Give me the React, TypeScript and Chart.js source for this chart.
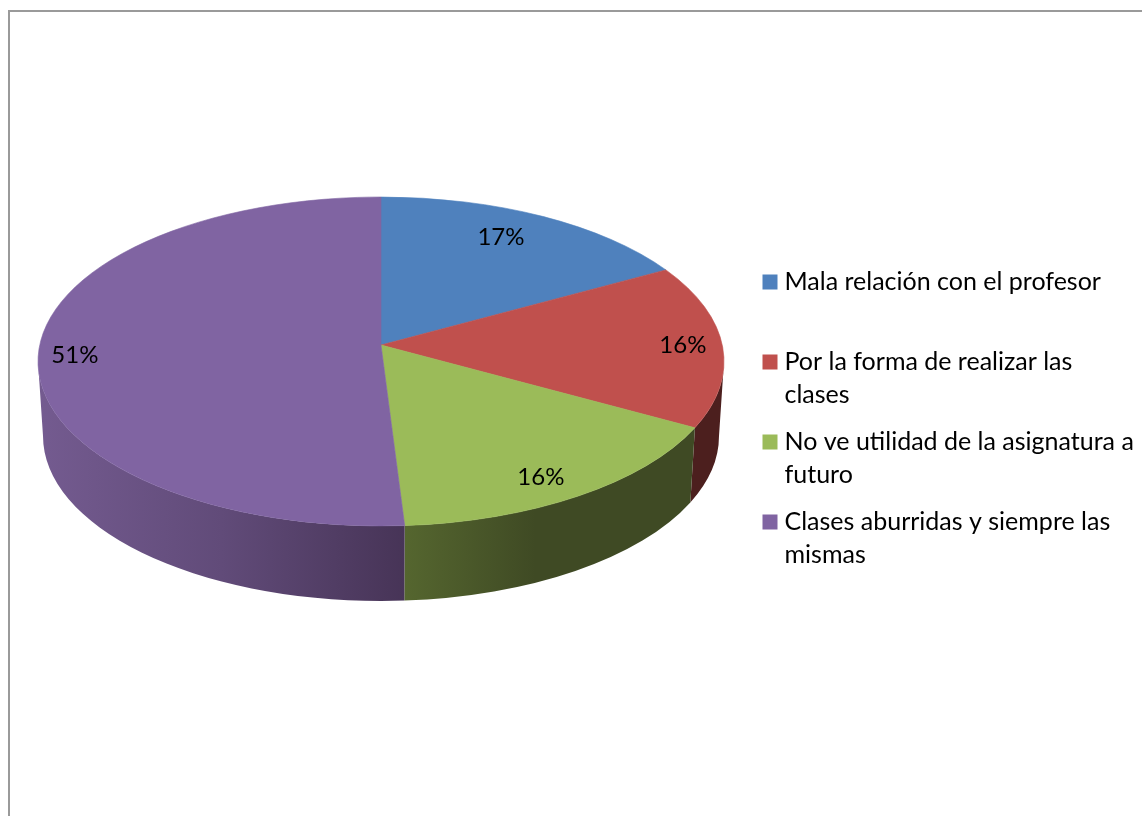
import React, { useEffect, useRef } from "react";
import { Chart, registerables } from "chart.js";

Chart.register(...registerables);

const categories: string[][] = [
  ["Mala relación con el profesor", ""],
  ["Por la forma de realizar las", "clases"],
  ["No ve utilidad de la asignatura a", "futuro"],
  ["Clases aburridas y siempre las", "mismas"],
];
const values = [17, 16, 16, 51];
const topColors = ["#4f81bd", "#c0504d", "#9bbb59", "#8064a2"];
const wallStops: [number, string][][] = [
  [[0, "#3a5a80"], [1, "#3a5a80"]],
  [[0, "#4c1f1e"], [1, "#4c1f1e"]],
  [[0, "#55662f"], [0.45, "#3f4a24"], [1, "#3f4a24"]],
  [[0, "#745b90"], [0.5, "#614b79"], [1, "#473457"]],
];
const labelReachX = [0.687, 0.88, 0.87, 0.893];
const labelReachY = [0.76, 0.88, 0.95, 1.93];

const TOP = { cx: 381, cy: 361.5, rx: 343, ry: 164.5, apexY: 345 };
const BOTTOM = { cx: 381, cy: 436, rx: 338, ry: 165 };
const FRAME_COLOR = "#9a9a9a";
const FONT = "Lato, Carlito, sans-serif";

// Ellipse parameter where the perspective ray of a slice angle leaves the top face.
function rimParam(angle: number): number {
  const th = angle + Math.PI / 2;
  const v0 = (TOP.apexY - TOP.cy) / TOP.ry;
  const dx = Math.sin(th);
  const dy = -Math.cos(th);
  const b = v0 * dy;
  const s = -b + Math.sqrt(b * b + 1 - v0 * v0);
  return Math.atan2(v0 + s * dy, s * dx);
}

const pie3d = {
  id: "pie3d",
  beforeDraw(chart: any) {
    const { ctx } = chart;
    ctx.save();
    ctx.strokeStyle = FRAME_COLOR;
    ctx.lineWidth = 2;
    ctx.beginPath();
    ctx.moveTo(1142, 11);
    ctx.lineTo(9, 11);
    ctx.lineTo(9, 816);
    ctx.stroke();
    ctx.restore();
  },
  afterLayout(chart: any) {
    const l = chart.legend;
    l.left = 754;
    l.right = 1142;
    l.width = l.right - l.left;
    l.top = 255.5;
    l.height = 400;
    l.bottom = l.top + l.height;
  },
  beforeDatasetsDraw(chart: any) {
    const { ctx } = chart;
    const arcs = chart.getDatasetMeta(0).data;
    ctx.save();
    // side walls
    arcs.forEach((arc: any, i: number) => {
      let a = rimParam(arc.startAngle);
      let b = rimParam(arc.endAngle);
      if (b < a) b += Math.PI * 2;
      const from = Math.max(a, 0);
      const to = Math.min(b, Math.PI);
      if (to <= from) return;
      const x0 = TOP.cx + TOP.rx * Math.cos(to);
      const x1 = TOP.cx + TOP.rx * Math.cos(from);
      const g = ctx.createLinearGradient(x0, 0, x1, 0);
      wallStops[i].forEach(([p, c]) => g.addColorStop(p, c));
      ctx.beginPath();
      ctx.ellipse(TOP.cx, TOP.cy, TOP.rx, TOP.ry, 0, from, to, false);
      ctx.ellipse(BOTTOM.cx, BOTTOM.cy, BOTTOM.rx, BOTTOM.ry, 0, to, from, true);
      ctx.closePath();
      ctx.fillStyle = g;
      ctx.fill();
    });
    // top face
    arcs.forEach((arc: any, i: number) => {
      const a = rimParam(arc.startAngle);
      const b = rimParam(arc.endAngle);
      ctx.beginPath();
      ctx.moveTo(TOP.cx, TOP.apexY);
      ctx.ellipse(TOP.cx, TOP.cy, TOP.rx, TOP.ry, 0, a, b, false);
      ctx.closePath();
      ctx.fillStyle = arc.options.backgroundColor;
      ctx.strokeStyle = arc.options.backgroundColor;
      ctx.lineWidth = 0.6;
      ctx.fill();
      ctx.stroke();
    });
    // percentage labels
    ctx.fillStyle = "#000";
    ctx.font = `24px ${FONT}`;
    ctx.textAlign = "center";
    ctx.textBaseline = "middle";
    arcs.forEach((arc: any, i: number) => {
      const mid = (arc.startAngle + arc.endAngle) / 2 + Math.PI / 2;
      const x = TOP.cx + TOP.rx * labelReachX[i] * Math.sin(mid);
      const y = TOP.apexY - TOP.ry * labelReachY[i] * Math.cos(mid);
      ctx.fillText(`${values[i]}%`, x, y);
    });
    ctx.restore();
    return false;
  },
};

export default function App() {
  const ref = useRef<HTMLCanvasElement | null>(null);
  useEffect(() => {
    const base = (Chart as any).overrides.doughnut.plugins.legend.labels.generateLabels;
    const chart = new Chart(ref.current as HTMLCanvasElement, {
      type: "pie",
      data: {
        labels: categories as any,
        datasets: [{ data: values, backgroundColor: topColors, borderWidth: 0 }],
      },
      options: {
        responsive: false,
        animation: false,
        layout: { padding: 0 },
        plugins: {
          tooltip: { enabled: false },
          legend: {
            position: "right",
            align: "start",
            labels: {
              boxWidth: 4,
              boxHeight: 4,
              padding: 14,
              color: "#000",
              font: { family: FONT, size: 25, lineHeight: 33 / 25 },
              generateLabels(c: any) {
                return base(c).map((it: any) => ({
                  ...it,
                  strokeStyle: it.fillStyle,
                  lineWidth: 11,
                }));
              },
            },
          },
        },
      },
      plugins: [pie3d as any],
    });
    return () => chart.destroy();
  }, []);
  return (
    <canvas
      ref={ref}
      width={1142}
      height={816}
      style={{ position: "absolute", left: 0, top: 0, display: "block" }}
    />
  );
}
